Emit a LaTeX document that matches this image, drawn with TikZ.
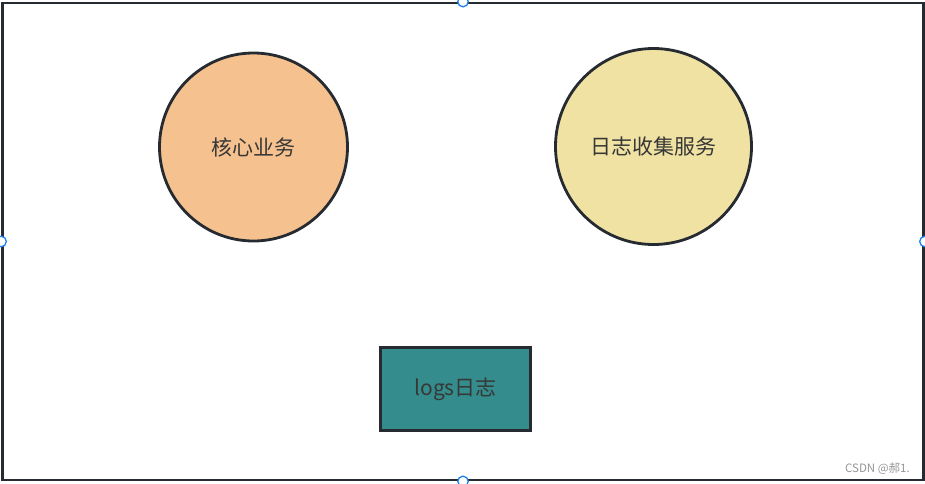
\documentclass[tikz,border=0pt]{standalone}
\usepackage{fontspec}
\usepackage{xcolor}
\usepackage{tikz}
\newfontfamily\cjk{Noto Sans CJK SC}
\definecolor{edgegray}{RGB}{38,43,49}
\definecolor{txtgray}{RGB}{55,55,55}
\definecolor{coreorange}{RGB}{244,193,143}
\definecolor{collyellow}{RGB}{240,226,163}
\definecolor{logteal}{RGB}{52,140,140}
\definecolor{handleblue}{RGB}{30,128,240}
\definecolor{markgray}{RGB}{150,150,150}
\tikzset{
  shp/.style={draw=edgegray, line width=2.8pt, text=txtgray, align=center,
    font=\cjk\fontsize{21}{24}\selectfont, inner sep=0pt},
  svc/.style={shp, circle},
  box/.style={shp, rectangle, minimum width=150pt, minimum height=83pt},
  frm/.style={draw=edgegray, line width=2.8pt, rectangle, inner sep=0pt,
    minimum width=921pt, minimum height=477pt},
  hdl/.style={circle, draw=handleblue, fill=white, line width=1.3pt,
    minimum size=10.5pt, inner sep=0pt},
  wm/.style={font=\cjk\fontsize{11.5}{13}\selectfont, text=markgray, inner sep=0pt},
}
\begin{document}
\begin{tikzpicture}[x=1pt, y=-1pt]
      \useasboundingbox[fill=white] (0,0) rectangle (925,483);
      % the frame and its handles
      \node[frm] (frame) at (463,241.5) {};
      \node[hdl] (htop)   at (frame.north) {};
      \node[hdl] (hleft)  at (frame.west) {};
      \node[hdl] (hright) at (frame.east) {};
      \node[hdl] (hbot)   at (frame.south) {};
      % the services
      \node[svc, fill=coreorange, minimum size=188pt] (core)    at (253.5,147) {核心业务};
      \node[svc, fill=collyellow, minimum size=196pt] (collect) at (653.5,146.5) {日志收集服务};
      % the log file
      \node[box, fill=logteal] (logs) at (455.5,389) {logs日志};
      \node[wm, anchor=east] (mark) at (910,469) {CSDN @郝1.};
    \end{tikzpicture}
\end{document}
